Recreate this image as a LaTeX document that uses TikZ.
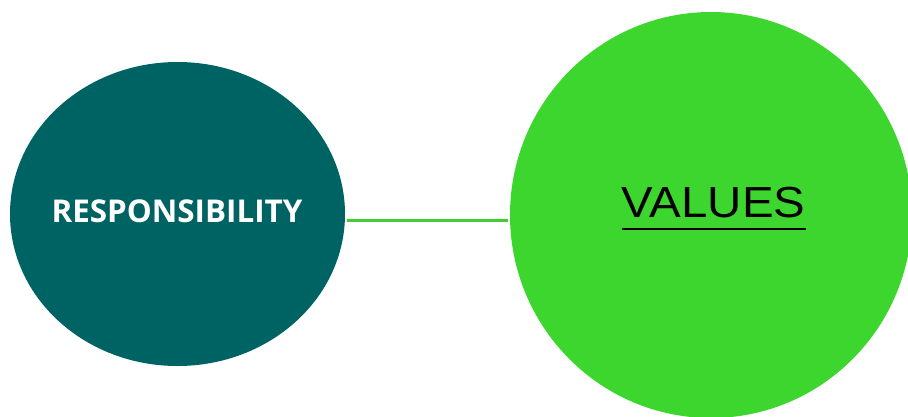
\documentclass[tikz,border=0pt]{standalone}
\usepackage{fontspec}
\setmainfont{Liberation Sans}
\newfontfamily\opensans{Open Sans}
\usetikzlibrary{shapes.geometric}
\definecolor{tealc}{RGB}{0,99,99}
\definecolor{greenc}{RGB}{61,214,46}
\definecolor{linec}{RGB}{68,204,51}
\begin{document}
\begin{tikzpicture}[x=1pt,y=-1pt,
  blob/.style={ellipse,inner sep=0pt,outer sep=0pt},
  conn/.style={draw=linec,line width=2.2pt}]
\useasboundingbox (0,0) rectangle (908,416);
\begin{scope}
\clip (0,0) rectangle (908,416);
\node[blob,fill=tealc,minimum width=335pt,minimum height=304pt] (resp) at (177.5,214) {};
\node[blob,fill=greenc,minimum width=402pt,minimum height=406pt] (val) at (711,215) {};
\end{scope}
\node[text=white,anchor=base,inner sep=0pt,font=\opensans\bfseries\fontsize{31.4}{36}\selectfont] (rt) at (177,222) {RESPONSIBILITY};
\node[anchor=base,inner sep=0pt,font=\fontsize{43.5}{50}\selectfont] (vt) at (713.5,217) {\scalebox{1.09}[1]{VALUES}};
\draw[line width=2.6pt] ([yshift=-12pt]vt.base west) -- ([yshift=-12pt]vt.base east);
\coordinate (a) at (347,220.5);
\coordinate (b) at (508,220.5);
\draw[conn] (a) -- (b);
\end{tikzpicture}
\end{document}
